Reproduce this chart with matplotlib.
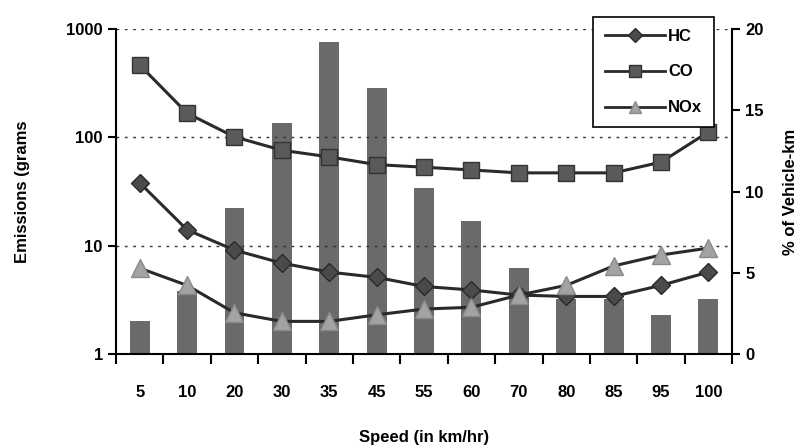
import matplotlib
matplotlib.use("Agg")
import matplotlib.pyplot as plt
import numpy as np
from matplotlib.lines import Line2D

speeds = ["5", "10", "20", "30", "35", "45", "55", "60", "70", "80", "85", "95", "100"]
vehicle_km_pct = [2.0, 3.9, 9.0, 14.2, 19.2, 16.4, 10.2, 8.2, 5.3, 3.4, 3.4, 2.4, 3.4]
hc = [38, 14, 9.1, 6.9, 5.7, 5.1, 4.2, 3.9, 3.5, 3.4, 3.4, 4.3, 5.7]
co = [465, 167, 101, 76, 66, 56, 53, 50, 47, 47, 47, 59, 112]
nox = [6.2, 4.3, 2.4, 2.0, 2.0, 2.3, 2.6, 2.7, 3.5, 4.3, 6.5, 8.2, 9.5]

plt.rcParams['font.family'] = ['Liberation Sans', 'DejaVu Sans']
plt.rcParams['font.weight'] = 'bold'
FS = 12

fig = plt.figure(figsize=(8.08, 4.45), dpi=100)
ax = fig.add_axes([0.1436, 0.2045, 0.7624, 0.7303])
ax2 = ax.twinx()

x = np.arange(len(speeds))
ax2.set_facecolor('#bfbfbf')
ax2.bar(x, vehicle_km_pct, width=0.42, color='#6a6a6a', zorder=1)
ax2.set_ylim(0, 20)
ax2.set_yticks([0, 5, 10, 15, 20])
ax2.set_ylabel('% of Vehicle-km', fontsize=FS, fontweight='bold', labelpad=14)

ax.set_zorder(ax2.get_zorder() + 1)
ax.patch.set_visible(False)

line_kw = dict(color='#2a2a2a', lw=2.2, zorder=3)
ax.plot(x, hc, marker='D', ms=9, mfc='#4a4a4a', mec='#2a2a2a', **line_kw)
ax.plot(x, co, marker='s', ms=12, mfc='#5a5a5a', mec='#333333', **line_kw)
ax.plot(x, nox, marker='^', ms=13, mfc='#a3a3a3', mec='#8a8a8a', **line_kw)

ax.set_yscale('log')
ax.set_ylim(1, 1000)
ax.set_xlim(-0.5, len(speeds) - 0.5)
ax.set_yticks([1, 10, 100, 1000])
ax.set_yticklabels(['1', '10', '100', '1000'])
ax.yaxis.set_minor_locator(matplotlib.ticker.NullLocator())
for v in [10, 100, 1000]:
    ax.axhline(v, color='#333333', ls=(0, (2, 4)), lw=1.0, zorder=0.5)

ax.set_xticks(x)
ax.set_xticklabels(speeds)
ax.set_xticks(np.arange(-0.5, len(speeds), 1), minor=True)
ax.tick_params(axis='x', which='major', length=0, pad=22, labelsize=FS)
ax.tick_params(axis='x', which='minor', length=7, width=1.5, direction='out')
ax.tick_params(axis='y', labelsize=FS, length=6, width=1.5)
ax2.tick_params(axis='y', labelsize=FS, length=6, width=1.5)

ax.set_xlabel('Speed (in km/hr)', fontsize=FS, fontweight='bold', labelpad=22)
ax.set_ylabel('Emissions (grams', fontsize=FS, fontweight='bold', labelpad=26)

for a in (ax, ax2):
    a.spines['top'].set_visible(False)
    a.spines['right'].set_visible(False)
ax.spines['left'].set_linewidth(1.5)
ax.spines['bottom'].set_linewidth(1.5)
ax2.spines['right'].set_visible(True)
ax2.spines['right'].set_linewidth(1.5)
ax2.spines['left'].set_visible(False)
ax2.spines['bottom'].set_visible(False)

handles = [
    Line2D([], [], marker='D', ms=7, mfc='#4a4a4a', mec='#2a2a2a', color='#2a2a2a', lw=2),
    Line2D([], [], marker='s', ms=8, mfc='#5a5a5a', mec='#333333', color='#2a2a2a', lw=2),
    Line2D([], [], marker='^', ms=8, mfc='#a3a3a3', mec='#8a8a8a', color='#2a2a2a', lw=2),
]
leg = fig.legend(handles, ['HC', 'CO', 'NOx'], loc='upper left',
                 bbox_to_anchor=(593 / 808, 1 - 17 / 445), fontsize=FS,
                 frameon=True, fancybox=False, edgecolor='black',
                 handlelength=3.6, labelspacing=1.25, borderpad=0.7,
                 handletextpad=0.2, borderaxespad=0)
leg.get_frame().set_linewidth(1.2)
leg.get_frame().set_alpha(1)

fig.savefig('out.png', dpi=100)
